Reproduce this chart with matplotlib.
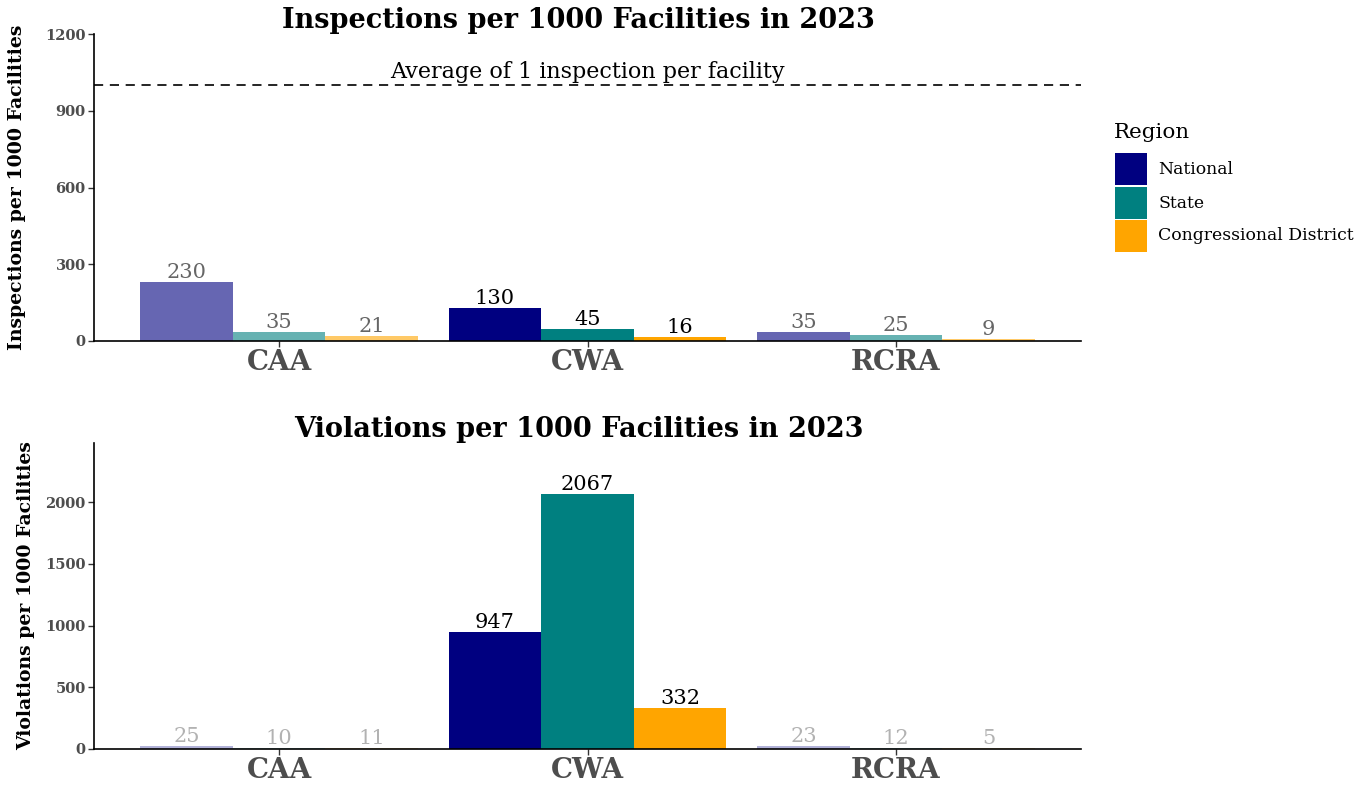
import matplotlib
matplotlib.use("Agg")
import matplotlib.pyplot as plt
from matplotlib.patches import Rectangle
import numpy as np

plt.rcParams['font.family'] = ['DejaVu Serif']

# Data
statutes = ['CAA', 'CWA', 'RCRA']
regions = ['National', 'State', 'Congressional District']
colors = ['#000080', '#008080', '#FFA500']

inspections = {
    'National': [230, 130, 35],
    'State': [35, 45, 25],
    'Congressional District': [21, 16, 9],
}
violations = {
    'National': [25, 947, 23],
    'State': [10, 2067, 12],
    'Congressional District': [11, 332, 5],
}
highlight = 'CWA'
avg_line = 1000

W, H = 1364, 785
fig = plt.figure(figsize=(W / 100, H / 100), dpi=100)
ax1 = fig.add_axes([94/W, 1-341/H, 987/W, 307/H])
ax2 = fig.add_axes([94/W, 1-749/H, 987/W, 306/H])

x = np.arange(1, len(statutes) + 1)
width = 0.3


def draw_panel(ax, data, fade, ylim, yticks, title, ylabel, lab_x):
    for j, reg in enumerate(regions):
        vals = data[reg]
        for i, st in enumerate(statutes):
            a = 1.0 if st == highlight else fade
            xpos = x[i] + (j - 1) * width
            ax.bar(xpos, vals[i], width=width, color=colors[j], alpha=a,
                   linewidth=0)
            ax.text(xpos, vals[i], str(vals[i]), ha='center', va='bottom',
                    fontsize=15, color=(0, 0, 0, a))
    ax.set_xlim(0.4, 3.6)
    ax.set_ylim(*ylim)
    ax.set_yticks(yticks)
    ax.set_xticks(x)
    ax.set_xticklabels(statutes, fontsize=20, fontweight='bold', color='#4d4d4d')
    for lbl in ax.get_yticklabels():
        lbl.set_fontsize(10.5)
        lbl.set_fontweight('bold')
        lbl.set_color('#4d4d4d')
    for s in ['top', 'right']:
        ax.spines[s].set_visible(False)
    for s in ['left', 'bottom']:
        ax.spines[s].set_linewidth(1.2)
    ax.tick_params(axis='both', length=4, width=1, color='#333333', pad=2)
    ax.set_title(title, fontsize=19.5, fontweight='bold', pad=3, x=0.491)
    ax.set_ylabel(ylabel, fontsize=13.6, fontweight='bold')
    ax.yaxis.set_label_coords(lab_x, 0.5)


draw_panel(ax1, inspections, 0.6, (0, 1200), [0, 300, 600, 900, 1200],
           'Inspections per 1000 Facilities in 2023',
           'Inspections per 1000 Facilities', (26 - 94) / 987)
ax1.axhline(avg_line, color='black', linestyle=(0, (5.5, 4)), linewidth=1.2)
ax1.text(2, avg_line + 8, 'Average of 1 inspection per facility',
         ha='center', va='bottom', fontsize=16)

draw_panel(ax2, violations, 0.3, (0, 2480), [0, 500, 1000, 1500, 2000],
           'Violations per 1000 Facilities in 2023',
           'Violations per 1000 Facilities', (35 - 94) / 987)

# legend drawn in figure pixel coordinates
fig.text(1114/W, 1-132/H, 'Region', fontsize=15.4, ha='left', va='center')
key_tops = [153, 187, 220]
for c, lab, top in zip(colors, regions, key_tops):
    fig.add_artist(Rectangle((1115/W, 1-(top+32)/H), 32/W, 32/H,
                             transform=fig.transFigure, facecolor=c,
                             edgecolor='none'))
    fig.text(1158/W, 1-(top+16)/H, lab, fontsize=12.4, ha='left', va='center')

fig.savefig('out.png', dpi=100)
